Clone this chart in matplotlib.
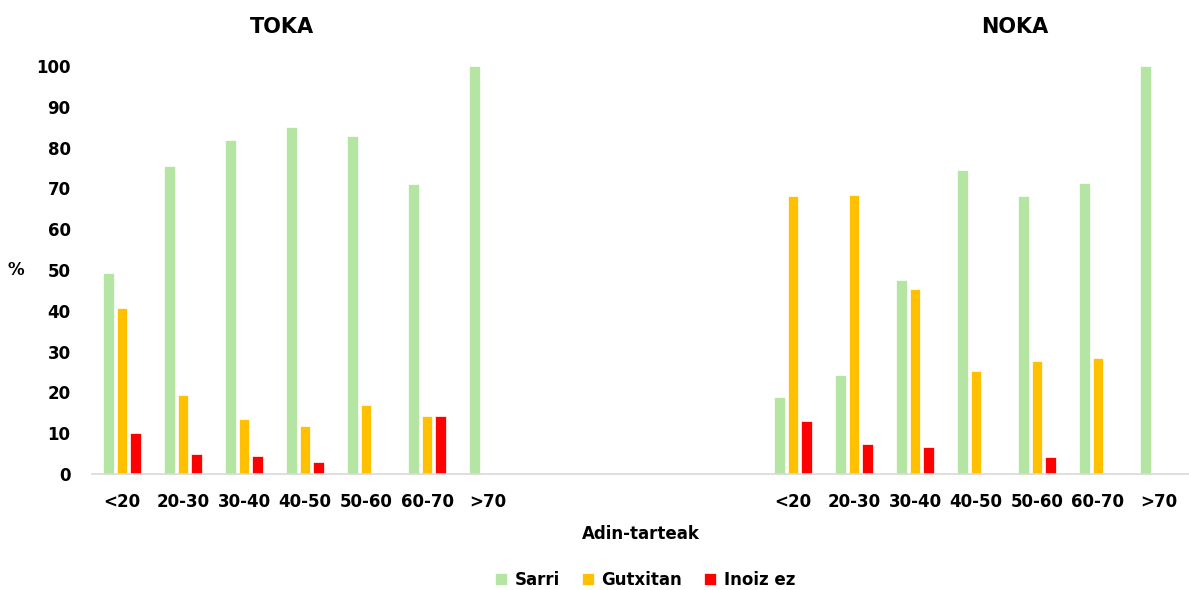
import numpy as np
import matplotlib.pyplot as plt

plt.rcParams['font.family'] = ['DejaVu Sans']
plt.rcParams['font.weight'] = 'bold'

# datuak
adinak = ['<20', '20-30', '30-40', '40-50', '50-60', '60-70', '>70']
toka_sarri = [49.2, 75.5, 81.8, 85.0, 82.9, 71.2, 100]
toka_gutxitan = [40.6, 19.4, 13.6, 11.8, 17.0, 14.2, 0]
toka_inoiz = [10.0, 4.8, 4.5, 2.9, 0, 14.2, 0]
noka_sarri = [18.8, 24.3, 47.6, 74.5, 68.1, 71.3, 100]
noka_gutxitan = [68.1, 68.3, 45.3, 25.3, 27.6, 28.5, 0]
noka_inoiz = [13.0, 7.3, 6.7, 0, 4.2, 0, 0]

kolore = ['#b5e5a2', '#ffc000', '#ff0000']
izenak = ['Sarri', 'Gutxitan', 'Inoiz ez']

# TOKA 0-6, hutsuneak 7-10, NOKA 11-17
tarte = 4
x_toka = np.arange(len(adinak))
x_noka = np.arange(len(adinak)) + len(adinak) + tarte
x_all = np.concatenate([x_toka, x_noka])

fig = plt.figure(figsize=(11.89, 5.90), dpi=100)
ax = fig.add_axes([91.5 / 1189, 1 - 474 / 590, 1098 / 1189, 408 / 590])

w = 0.17
step = 0.222
series = [(toka_sarri, noka_sarri), (toka_gutxitan, noka_gutxitan), (toka_inoiz, noka_inoiz)]
for i, (t, n) in enumerate(series):
    vals = np.array(t + n)
    mask = vals > 0
    ax.bar(x_all[mask] + (i - 1) * step, vals[mask], width=w, color=kolore[i],
           label=izenak[i], edgecolor='white', linewidth=0.5, clip_on=False)

ax.set_xlim(-0.5, len(adinak) * 2 + tarte - 0.5)
ax.set_ylim(0, 100)
ax.set_yticks(np.arange(0, 101, 10))
ax.set_xticks(x_all)
ax.set_xticklabels(adinak + adinak)
ax.tick_params(axis='both', length=0, labelsize=12, colors='black')
ax.tick_params(axis='x', pad=14)
ax.tick_params(axis='y', pad=15)

for s in ['top', 'right', 'left']:
    ax.spines[s].set_visible(False)
ax.spines['bottom'].set_color('#d9d9d9')
ax.spines['bottom'].set_linewidth(1.2)

ax.set_xlabel('Adin-tarteak', fontsize=12, fontweight='bold', labelpad=10)
fig.text(16 / 1189, 1 - 270 / 590, '%', fontsize=12, fontweight='bold', ha='center', va='center')

fig.text(282 / 1189, 1 - 27 / 590, 'TOKA', fontsize=15, fontweight='bold', ha='center', va='center')
fig.text(1015 / 1189, 1 - 27 / 590, 'NOKA', fontsize=15, fontweight='bold', ha='center', va='center')

fig.legend(loc='center', bbox_to_anchor=(645 / 1189, 1 - 580 / 590), ncol=3, frameon=False,
           fontsize=12, handlelength=0.75, handleheight=0.75, handletextpad=0.45, columnspacing=1.3)

fig.savefig('out.png', dpi=100)
